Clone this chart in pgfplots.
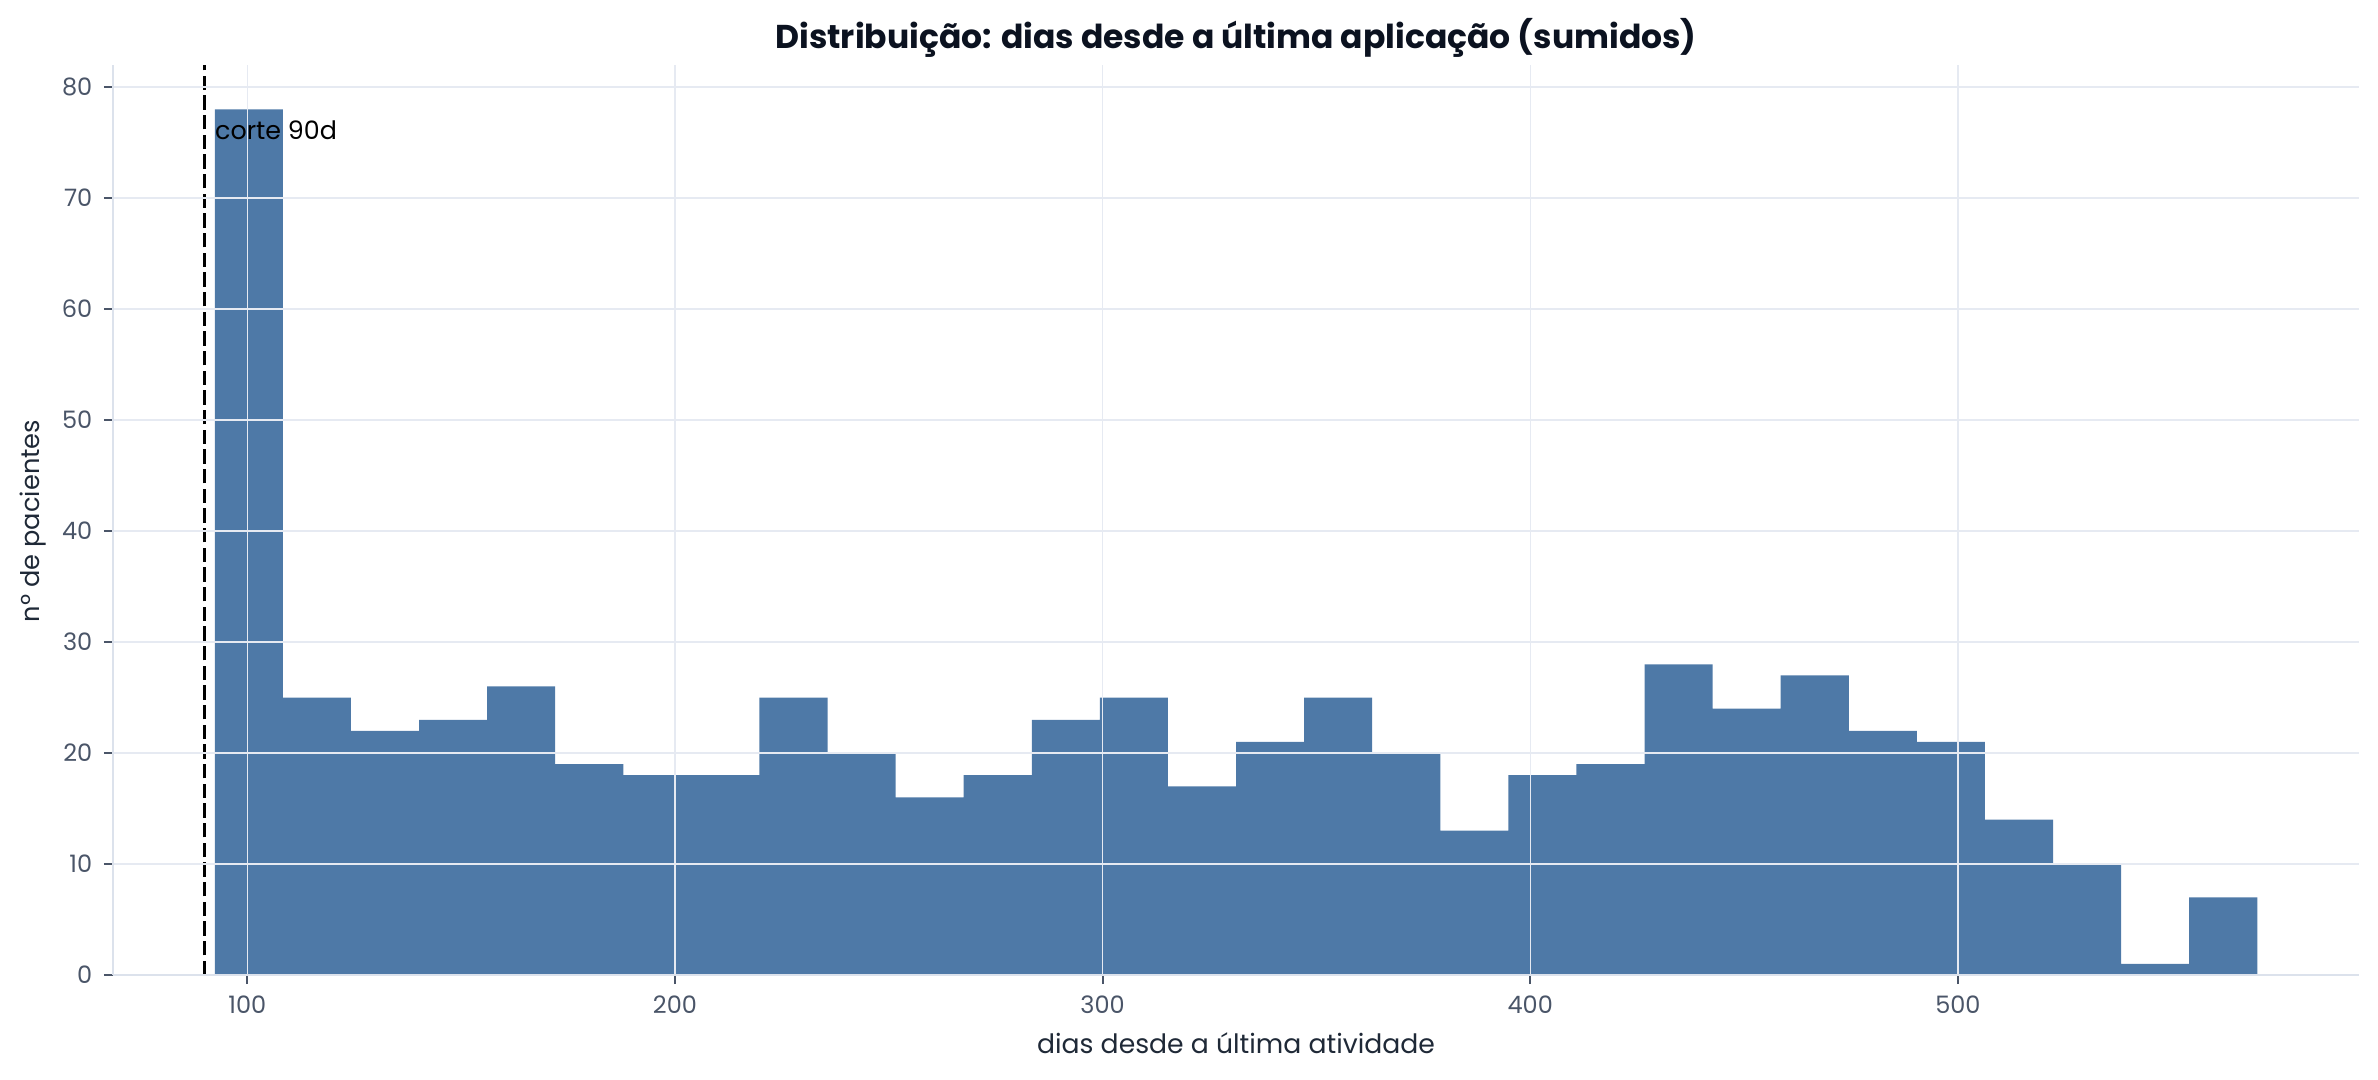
\documentclass[border=0pt]{standalone}
\usepackage{fontspec}
\setmainfont{Poppins}
\usepackage{pgfplots}
\usepackage{pgfplotstable}
\pgfplotsset{compat=1.18}

\definecolor{barblue}{HTML}{4E79A7}
\definecolor{gridc}{HTML}{E6EAF2}
\definecolor{spinec}{HTML}{DCE2EC}
\definecolor{tickc}{HTML}{4A5568}
\definecolor{labc}{HTML}{1F2937}
\definecolor{titc}{HTML}{0B1220}

% bin left edge, count (last row closes the final bin)
\pgfplotstableread{
x y
92.40 78
108.32 25
124.24 22
140.16 23
156.08 26
172.00 19
187.92 18
203.84 18
219.76 25
235.68 20
251.60 16
267.52 18
283.44 23
299.36 25
315.28 17
331.20 21
347.12 25
363.04 20
378.96 13
394.88 18
410.80 19
426.72 28
442.64 24
458.56 27
474.48 22
490.40 21
506.32 14
522.24 10
538.16 1
554.08 7
570.00 0
}\bins

\begin{document}
\begin{tikzpicture}
\useasboundingbox (0,0) rectangle (713.4pt,323.7pt);
\begin{axis}[
  at={(33.9pt,31.2pt)}, anchor=south west,
  scale only axis, width=673.8pt, height=273pt,
  xmin=68.6, xmax=593.8, ymin=0, ymax=82,
  axis lines*=left,
  axis line style={spinec, line width=0.6pt},
  xtick={100,200,...,500}, ytick={0,10,...,80},
  tick align=outside, major tick length=2.7pt,
  tick style={tickc, line width=0.6pt},
  grid=major, major grid style={gridc, line width=0.45pt},
  axis on top,
  ticklabel style={font=\fontsize{7.2}{8}\selectfont, text=tickc},
  /pgf/number format/assume math mode=true,
  clip=false,
]
\addplot[ybar interval, fill=barblue, draw=none] table {\bins};
\addplot[black, line width=0.8pt, dash pattern=on 4.3pt off 1.6pt] coordinates {(90,0) (90,82)};
\node[anchor=west, inner xsep=3pt, font=\fontsize{7.6}{8}\selectfont] at (axis cs:90,76.1) {corte 90d};
\end{axis}
\node[text=titc, font=\bfseries\fontsize{9.9}{11}\selectfont] at (370.8pt,312.3pt) {Distribuição: dias desde a última aplicação (sumidos)};
\node[text=labc, font=\fontsize{8}{9}\selectfont] at (370.8pt,10.7pt) {dias desde a última atividade};
\node[text=labc, font=\fontsize{7.7}{9}\selectfont, rotate=90] at (10pt,167.4pt) {nº de pacientes};
\end{tikzpicture}
\end{document}
